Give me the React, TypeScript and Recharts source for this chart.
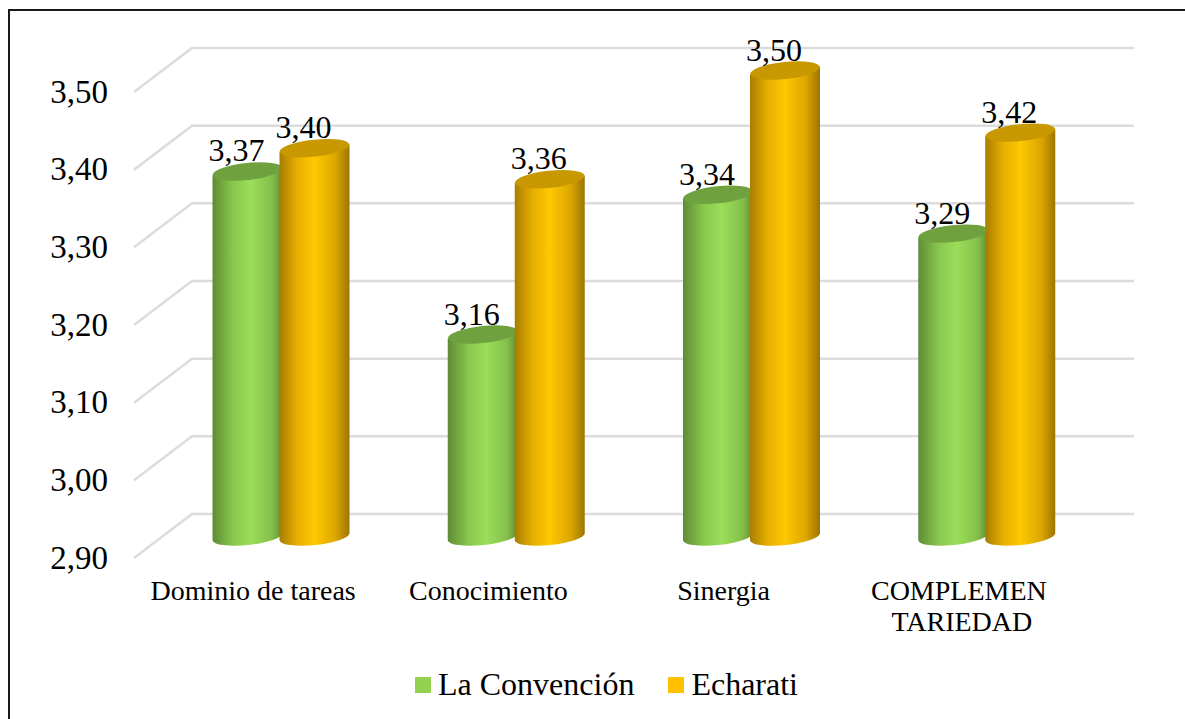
import { Bar, BarChart, CartesianGrid, LabelList, Legend, XAxis, YAxis } from 'recharts';

const categories = ['Dominio de tareas', 'Conocimiento', 'Sinergia', 'COMPLEMEN\nTARIEDAD'];
const laConvencion = [3.37, 3.16, 3.34, 3.29];
const echarati = [3.4, 3.36, 3.5, 3.42];
const yTicks = [2.9, 3.0, 3.1, 3.2, 3.3, 3.4, 3.5];

const data = categories.map((name, i) => ({ name, laConvencion: laConvencion[i], echarati: echarati[i] }));

const FONT = '"Liberation Serif", "Times New Roman", serif';
const TILT = -6;

const comma = (v: number) => v.toFixed(2).replace('.', ',');

function cylinder(gradient: string, capColor: string) {
    return (props: any) => {
        const { x, y, width, height } = props;
        const rx = width / 2;
        const ry = 8.5;
        const cx = x + rx;
        const t = rx * Math.sin((-TILT * Math.PI) / 180);
        const bottom = y + height;
        const d = `M${x},${y + t} L${x},${bottom + t} A${rx},${ry} ${TILT} 0 0 ${x + width},${bottom - t} L${x + width},${y - t} Z`;
        return (
            <g>
                <path d={d} fill={`url(#${gradient})`} />
                <ellipse cx={cx} cy={y} rx={rx} ry={ry} fill={capColor} transform={`rotate(${TILT} ${cx} ${y})`} />
            </g>
        );
    };
}

function gridLine(props: any) {
    const { y1, index } = props;
    // back wall sits above the bars' plane, floor edge comes forward to the labels
    return (
        <path
            key={index}
            d={`M134,${y1 + 21.5} L192,${y1 - 22.5} L1134,${y1 - 22.5}`}
            fill="none"
            stroke="#dcdcdc"
            strokeWidth={2.5}
        />
    );
}

function YTick(props: any) {
    const { y, payload } = props;
    return (
        <text x={108} y={y + 32} textAnchor="end" fontFamily={FONT} fontSize={33} fill="#000">
            {comma(payload.value)}
        </text>
    );
}

function XTick(props: any) {
    const { x, y, payload } = props;
    const lines = String(payload.value).split('\n');
    return (
        <text x={x - 28} y={y + 55} textAnchor="middle" fontFamily={FONT} fontSize={28} fill="#000">
            {lines.map((line, i) => (
                <tspan key={line} x={x - 28 + (i === 0 ? 0 : 3)} dy={i === 0 ? 0 : 31}>
                    {line}
                </tspan>
            ))}
        </text>
    );
}

function ValueLabel(props: any) {
    const { x, y, width, value } = props;
    return (
        <text x={x + width / 2 - 11} y={y - 10} textAnchor="middle" fontFamily={FONT} fontSize={32} fill="#000">
            {comma(value)}
        </text>
    );
}

function LegendRow(props: any) {
    return (
        <div style={{ display: 'flex', alignItems: 'center', fontFamily: FONT, fontSize: 32, color: '#000', whiteSpace: 'nowrap' }}>
            {props.payload.map((entry: any, i: number) => (
                <span key={entry.value} style={{ display: 'flex', alignItems: 'center', marginLeft: i === 0 ? 0 : 34 }}>
                    <span style={{ width: 16, height: 16, background: entry.color, marginRight: 7 }} />
                    {entry.value}
                </span>
            ))}
        </div>
    );
}

export default function App() {
    return (
        <div style={{ position: 'absolute', left: 0, top: 0, width: 1185, height: 719, background: '#fff', overflow: 'hidden' }}>
            <div style={{ position: 'absolute', left: 8, top: 9, right: 0, bottom: 0, borderLeft: '2px solid #1a1a1a', borderTop: '2px solid #1a1a1a' }} />
            <BarChart
                width={1185}
                height={719}
                data={data}
                barSize={70}
                barGap={-3}
                barCategoryGap={0}
                margin={{ top: 70.5, right: 80.5, bottom: 181.5, left: 162.5 }}
                style={{ position: 'absolute', left: 0, top: 0 }}
            >
                <defs>
                    <linearGradient id="greenSide" x1="0" y1="0" x2="1" y2="0">
                        <stop offset="0" stopColor="#5f8c35" />
                        <stop offset="0.3" stopColor="#8ac84e" />
                        <stop offset="0.55" stopColor="#9ade5a" />
                        <stop offset="0.85" stopColor="#85bf4a" />
                        <stop offset="1" stopColor="#5f8c35" />
                    </linearGradient>
                    <linearGradient id="orangeSide" x1="0" y1="0" x2="1" y2="0">
                        <stop offset="0" stopColor="#a67d00" />
                        <stop offset="0.25" stopColor="#e6ae00" />
                        <stop offset="0.5" stopColor="#ffc800" />
                        <stop offset="0.8" stopColor="#dca600" />
                        <stop offset="1" stopColor="#9c7500" />
                    </linearGradient>
                </defs>
                <CartesianGrid vertical={false} horizontal={gridLine} />
                <XAxis dataKey="name" height={1} axisLine={false} tickLine={false} tick={XTick} interval={0} />
                <YAxis type="number" domain={[2.9, 3.5]} ticks={yTicks} width={1} axisLine={false} tickLine={false} tick={YTick} />
                <Legend
                    verticalAlign="middle"
                    align="center"
                    itemSorter={null}
                    content={LegendRow}
                    wrapperStyle={{ left: 415, top: 666, width: 'auto' }}
                />
                <Bar dataKey="laConvencion" name="La Convención" fill="#92D050" shape={cylinder('greenSide', '#6fa23f')} isAnimationActive={false}>
                    <LabelList dataKey="laConvencion" content={ValueLabel} />
                </Bar>
                <Bar dataKey="echarati" name="Echarati" fill="#FFC000" shape={cylinder('orangeSide', '#c79800')} isAnimationActive={false}>
                    <LabelList dataKey="echarati" content={ValueLabel} />
                </Bar>
            </BarChart>
        </div>
    );
}
